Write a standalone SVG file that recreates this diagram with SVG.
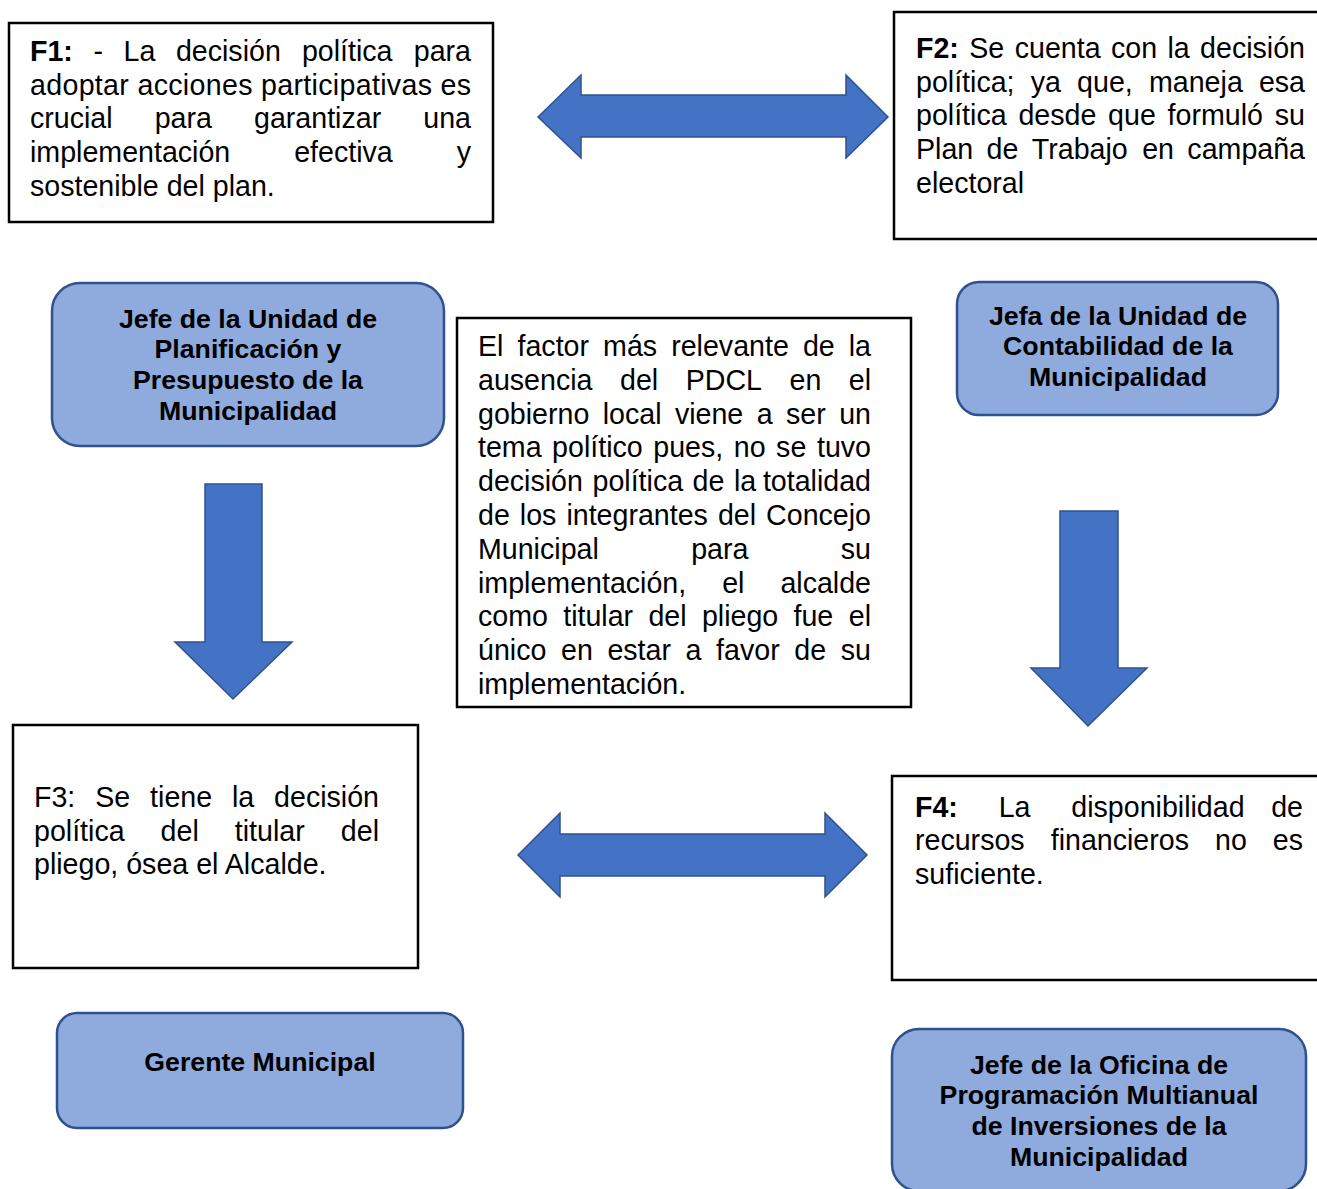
<svg xmlns="http://www.w3.org/2000/svg" width="1317" height="1189" viewBox="0 0 1317 1189">
<style>
  text { font-family: "Liberation Sans", Arial, sans-serif; fill: #000; }
  .body { font-size: 28.6px; }
  .role { font-size: 26.7px; font-weight: bold; text-anchor: middle; }
  .b { font-weight: bold; }
  .e { text-anchor: end; }
  .box { fill: #fff; stroke: #000; stroke-width: 2.5; }
  .rbox { fill: #8FAADC; stroke: #2F528F; stroke-width: 2.5; }
  .arrow { fill: #4472C4; stroke: #2F528F; stroke-width: 1.5; stroke-linejoin: miter; }
</style>
<rect width="1317" height="1189" fill="#fff"/>

<g id="connectors">
  <polygon class="arrow" points="538,117 581,75 581,95 846,95 846,75 888,117 846,158 846,137 581,137 581,158"/>
  <polygon class="arrow" points="518,855 560,813 560,834 825,834 825,813 867,855 825,897 825,876 560,876 560,897"/>
  <polygon class="arrow" points="205,484 262,484 262,642 292,642 233,699 175,642 205,642"/>
  <polygon class="arrow" points="1060,511 1118,511 1118,668 1147,668 1088,726 1031,668 1060,668"/>
</g>

<g id="f1">
  <rect class="box" x="9" y="23" width="484" height="199"/>
  <text class="body" y="61"><tspan x="30" class="b">F1:</tspan><tspan x="93.6">-</tspan><tspan x="123.5">La</tspan><tspan x="175.9">decisión</tspan><tspan x="301.9">política</tspan><tspan x="471" class="e">para</tspan></text>
  <text class="body" x="30" y="94.7" textLength="441" lengthAdjust="spacing">adoptar acciones participativas es</text>
  <text class="body" y="128.4"><tspan x="30">crucial</tspan><tspan x="154.7">para</tspan><tspan x="254">garantizar</tspan><tspan x="471" class="e">una</tspan></text>
  <text class="body" y="162.1"><tspan x="30">implementación</tspan><tspan x="294.2">efectiva</tspan><tspan x="471" class="e">y</tspan></text>
  <text class="body" x="30" y="195.8">sostenible del plan.</text>
</g>

<g id="f2">
  <rect class="box" x="894" y="12" width="440" height="227"/>
  <text class="body" y="58"><tspan x="916" class="b">F2:</tspan><tspan x="969.3">Se</tspan><tspan x="1014.7">cuenta</tspan><tspan x="1111">con</tspan><tspan x="1167.5">la</tspan><tspan x="1305" class="e">decisión</tspan></text>
  <text class="body" y="91.7"><tspan x="916">política;</tspan><tspan x="1030.8">ya</tspan><tspan x="1077.1">que,</tspan><tspan x="1149">maneja</tspan><tspan x="1305" class="e">esa</tspan></text>
  <text class="body" y="125.4"><tspan x="916">política</tspan><tspan x="1018.4">desde</tspan><tspan x="1108.1">que</tspan><tspan x="1167.6">formuló</tspan><tspan x="1305" class="e">su</tspan></text>
  <text class="body" y="159.1"><tspan x="916">Plan</tspan><tspan x="986.6">de</tspan><tspan x="1031.8">Trabajo</tspan><tspan x="1142.2">en</tspan><tspan x="1305" class="e">campaña</tspan></text>
  <text class="body" x="916" y="192.8">electoral</text>
</g>

<g id="jefe-planificacion">
  <rect class="rbox" x="52" y="283" width="392" height="163" rx="28" ry="28"/>
  <text class="role" x="248" y="327.5">Jefe de la Unidad de</text>
  <text class="role" x="248" y="358.2">Planificación y</text>
  <text class="role" x="248" y="388.9">Presupuesto de la</text>
  <text class="role" x="248" y="419.6">Municipalidad</text>
</g>

<g id="factor-central">
  <rect class="box" x="457" y="318" width="454" height="389"/>
  <text class="body" y="356"><tspan x="478">El</tspan><tspan x="517.5">factor</tspan><tspan x="603.1">más</tspan><tspan x="671.2">relevante</tspan><tspan x="802.9">de</tspan><tspan x="871" class="e">la</tspan></text>
  <text class="body" y="389.8"><tspan x="478">ausencia</tspan><tspan x="620">del</tspan><tspan x="685.7">PDCL</tspan><tspan x="789.5">en</tspan><tspan x="871" class="e">el</tspan></text>
  <text class="body" y="423.6"><tspan x="478">gobierno</tspan><tspan x="602.7">local</tspan><tspan x="674.9">viene</tspan><tspan x="756.7">a</tspan><tspan x="786">ser</tspan><tspan x="871" class="e">un</tspan></text>
  <text class="body" y="457.4"><tspan x="478">tema</tspan><tspan x="552.1">político</tspan><tspan x="653.3">pues,</tspan><tspan x="733.8">no</tspan><tspan x="776.1">se</tspan><tspan x="871" class="e">tuvo</tspan></text>
  <text class="body" y="491.2"><tspan x="478">decisión</tspan><tspan x="592.5">política</tspan><tspan x="692.6">de</tspan><tspan x="734">la</tspan><tspan x="871" class="e">totalidad</tspan></text>
  <text class="body" y="525"><tspan x="478">de</tspan><tspan x="519.8">los</tspan><tspan x="566.4">integrantes</tspan><tspan x="717.9">del</tspan><tspan x="871" class="e">Concejo</tspan></text>
  <text class="body" y="558.8"><tspan x="478">Municipal</tspan><tspan x="691.2">para</tspan><tspan x="871" class="e">su</tspan></text>
  <text class="body" y="592.6"><tspan x="478">implementación,</tspan><tspan x="722.2">el</tspan><tspan x="871" class="e">alcalde</tspan></text>
  <text class="body" y="626.4"><tspan x="478">como</tspan><tspan x="563.2">titular</tspan><tspan x="648.4">del</tspan><tspan x="701.9">pliego</tspan><tspan x="793.5">fue</tspan><tspan x="871" class="e">el</tspan></text>
  <text class="body" y="660.2"><tspan x="478">único</tspan><tspan x="561">en</tspan><tspan x="607.4">estar</tspan><tspan x="685.6">a</tspan><tspan x="716.1">favor</tspan><tspan x="794.3">de</tspan><tspan x="871" class="e">su</tspan></text>
  <text class="body" x="478" y="694">implementación.</text>
</g>

<g id="jefa-contabilidad">
  <rect class="rbox" x="957" y="282" width="321" height="133" rx="22" ry="22"/>
  <text class="role" x="1118" y="324.5">Jefa de la Unidad de</text>
  <text class="role" x="1118" y="355.2">Contabilidad de la</text>
  <text class="role" x="1118" y="385.9">Municipalidad</text>
</g>

<g id="f3">
  <rect class="box" x="13" y="725" width="405" height="243"/>
  <text class="body" y="807"><tspan x="34">F3:</tspan><tspan x="95.2">Se</tspan><tspan x="150.1">tiene</tspan><tspan x="232">la</tspan><tspan x="379" class="e">decisión</tspan></text>
  <text class="body" y="840.5"><tspan x="34">política</tspan><tspan x="160.6">del</tspan><tspan x="234.8">titular</tspan><tspan x="379" class="e">del</tspan></text>
  <text class="body" x="34" y="874">pliego, ósea el Alcalde.</text>
</g>

<g id="f4">
  <rect class="box" x="892" y="776" width="440" height="204"/>
  <text class="body" y="816.5"><tspan x="915" class="b">F4:</tspan><tspan x="998.7">La</tspan><tspan x="1071.3">disponibilidad</tspan><tspan x="1303" class="e">de</tspan></text>
  <text class="body" y="850.2"><tspan x="915">recursos</tspan><tspan x="1050.7">financieros</tspan><tspan x="1215">no</tspan><tspan x="1303" class="e">es</tspan></text>
  <text class="body" x="915" y="883.9">suficiente.</text>
</g>

<g id="gerente-municipal">
  <rect class="rbox" x="57" y="1013" width="406" height="115" rx="20" ry="20"/>
  <text class="role" x="260" y="1071">Gerente Municipal</text>
</g>

<g id="jefe-opmi">
  <rect class="rbox" x="892" y="1029" width="414" height="162" rx="27" ry="27"/>
  <text class="role" x="1099" y="1073.5">Jefe de la Oficina de</text>
  <text class="role" x="1099" y="1104.2">Programación Multianual</text>
  <text class="role" x="1099" y="1134.9">de Inversiones de la</text>
  <text class="role" x="1099" y="1165.6">Municipalidad</text>
</g>
</svg>
